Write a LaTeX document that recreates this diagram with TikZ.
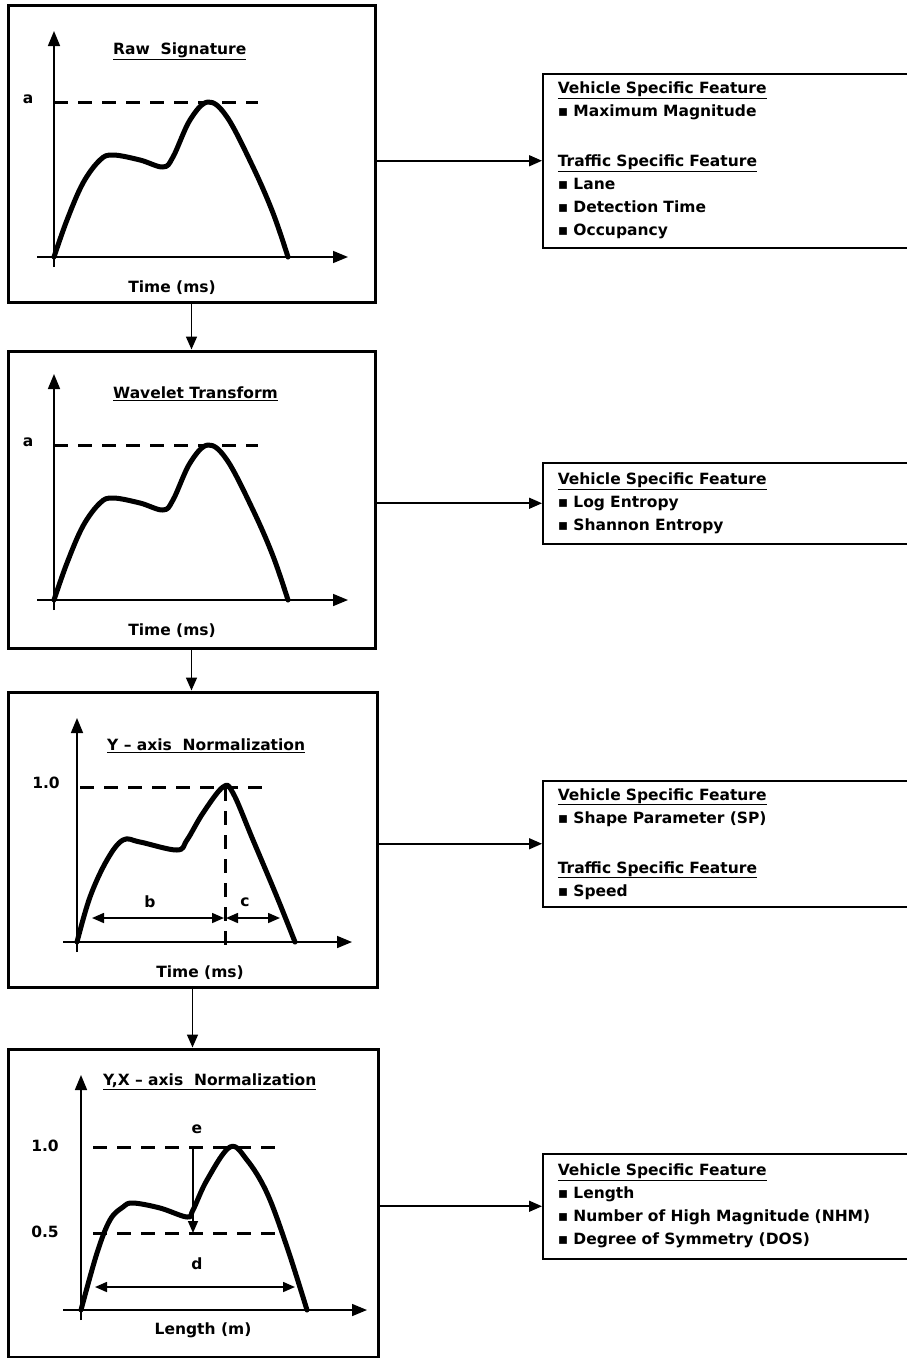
\documentclass[tikz,border=0pt]{standalone}
\usepackage{fontspec}
\setmainfont{DejaVu Sans}
\usetikzlibrary{arrows.meta}
\tikzset{
  panel/.style={draw, line width=3pt, inner sep=0pt, minimum width=367pt, minimum height=297pt},
  featbox/.style={draw, line width=1.5pt, anchor=north west, align=left, text width=338pt,
    inner xsep=15pt, font=\bfseries\fontsize{15.5}{23}\selectfont},
  axis/.style={line width=1.6pt, -{Triangle[length=15pt,width=12pt]}},
  sig/.style={line width=5pt, line join=round, line cap=round},
  guide/.style={line width=3pt, dash pattern=on 14pt off 10pt},
  dim/.style={line width=1.6pt, {Triangle[length=12pt,width=10pt]}-{Triangle[length=12pt,width=10pt]}},
  link/.style={line width=1.6pt, -{Triangle[length=13pt,width=11pt]}},
  lbl/.style={font=\bfseries\fontsize{15.5}{18}\selectfont, inner sep=0pt}
}
\begin{document}
\begin{tikzpicture}[x=1pt, y=-1pt]
  \useasboundingbox (0,0) rectangle (906,1358);

  % the four processing steps
  \node[panel] (raw) at (191.5,153.5) {};
  \node[panel] (wave) at (191.5,499.5) {};
  \node[panel, minimum width=369pt, minimum height=295pt] (ynorm) at (192.5,839.5) {};
  \node[panel, minimum width=370pt, minimum height=308pt] (yxnorm) at (193,1203) {};

  % raw signature and wavelet transform look the same
  \foreach \oy/\ttl in {257/{Raw\ \ Signature}, 600/{Wavelet Transform}} {
    \begin{scope}[shift={(54,\oy)}, yscale=-1]
      \draw[axis] (0,-10) -- (0,226);
      \draw[axis] (-17,0) -- (294,0);
      \draw[guide] (0,155) -- (204,155);
      \draw[sig] plot[smooth, tension=0.6] coordinates {(0,0) (13,37) (29,74) (46,97) (59,102) (86,97)
        (109,90) (119,100) (136,137) (154,155) (173,140) (199,90) (219,44) (234,0)};
      \node[lbl] (amax\oy) at (-26,158) {a};
      \node[lbl, anchor=west] (ttl\oy) at (59,206) {\underline{\ttl}};
      \node[lbl] (time\oy) at (118,-31) {Time (ms)};
    \end{scope}
  }

  % y-axis normalization
  \begin{scope}[shift={(77,942)}, yscale=-1]
    \draw[axis] (0,-10) -- (0,224);
    \draw[axis] (-14,0) -- (275,0);
    \draw[guide] (3,155) -- (191,155);
    \draw[guide] (148,155) -- (148,-3);
    \draw[sig] plot[smooth, tension=0.6] coordinates {(0,0) (13,45) (30,82) (46,102) (63,100) (100,92)
      (110,102) (126,129) (146,155) (156,149) (176,102) (200,45) (218,0)};
    \draw[dim] (15,24) -- (147,24);
    \draw[dim] (149,24) -- (203,24);
    \node[lbl] (lb) at (73,40) {b};
    \node[lbl] (lc) at (168,40) {c};
    \node[lbl] (one3) at (-31,159) {1.0};
    \node[lbl, anchor=west] (ttl3) at (30,196) {\underline{Y -- axis\ \ Normalization}};
    \node[lbl] (time3) at (123,-31) {Time (ms)};
  \end{scope}

  % y,x-axis normalization
  \begin{scope}[shift={(81,1310)}, yscale=-1]
    \draw[axis] (0,-10) -- (0,235);
    \draw[axis] (-18,0) -- (286,0);
    \draw[guide] (12,163) -- (199,163);
    \draw[guide] (12,77) -- (199,77);
    \draw[sig] plot[smooth, tension=0.6] coordinates {(0,0) (16,57) (29,90) (42,103) (52,107) (79,102)
      (106,93) (112,100) (126,130) (149,163) (166,150) (186,117) (206,63) (226,0)};
    \draw[line width=1.6pt, -{Triangle[length=12pt,width=10pt]}] (112,163) -- (112,77);
    \draw[dim] (14,23) -- (214,23);
    \node[lbl] (le) at (116,181) {e};
    \node[lbl] (ld) at (116,46) {d};
    \node[lbl] (one4) at (-36,164) {1.0};
    \node[lbl] (half4) at (-36,78) {0.5};
    \node[lbl, anchor=west] (ttl4) at (22,228) {\underline{Y,X -- axis\ \ Normalization}};
    \node[lbl] (len4) at (122,-20) {Length (m)};
  \end{scope}

  % extracted features
  \node[featbox, minimum height=174pt] (vf1) at (542,73) {\underline{Vehicle Specific Feature}\\
    ▪ Maximum Magnitude\\[27pt]
    \underline{Traffic Specific Feature}\\ ▪ Lane\\ ▪ Detection Time\\ ▪ Occupancy};
  \node[featbox, minimum height=81pt] (vf2) at (542,462) {\underline{Vehicle Specific Feature}\\
    ▪ Log Entropy\\ ▪ Shannon Entropy};
  \node[featbox, minimum height=126pt] (vf3) at (542,780) {\underline{Vehicle Specific Feature}\\
    ▪ Shape Parameter (SP)\\[27pt]
    \underline{Traffic Specific Feature}\\ ▪ Speed};
  \node[featbox, minimum height=105pt] (vf4) at (542,1153) {\underline{Vehicle Specific Feature}\\
    ▪ Length\\ ▪ Number of High Magnitude (NHM)\\ ▪ Degree of Symmetry (DOS)};

  % connectors
  \draw[link] (raw.south) -- (raw.south |- wave.north);
  \draw[link] (wave.south) -- (wave.south |- ynorm.north);
  \draw[link] (ynorm.south) -- (ynorm.south |- yxnorm.north);
  \draw[link] (vf1.west -| raw.east) -- (vf1.west);
  \draw[link] (vf2.west -| wave.east) -- (vf2.west);
  \draw[link] (vf3.west -| ynorm.east) -- (vf3.west);
  \draw[link] (vf4.west -| yxnorm.east) -- (vf4.west);
\end{tikzpicture}
\end{document}
